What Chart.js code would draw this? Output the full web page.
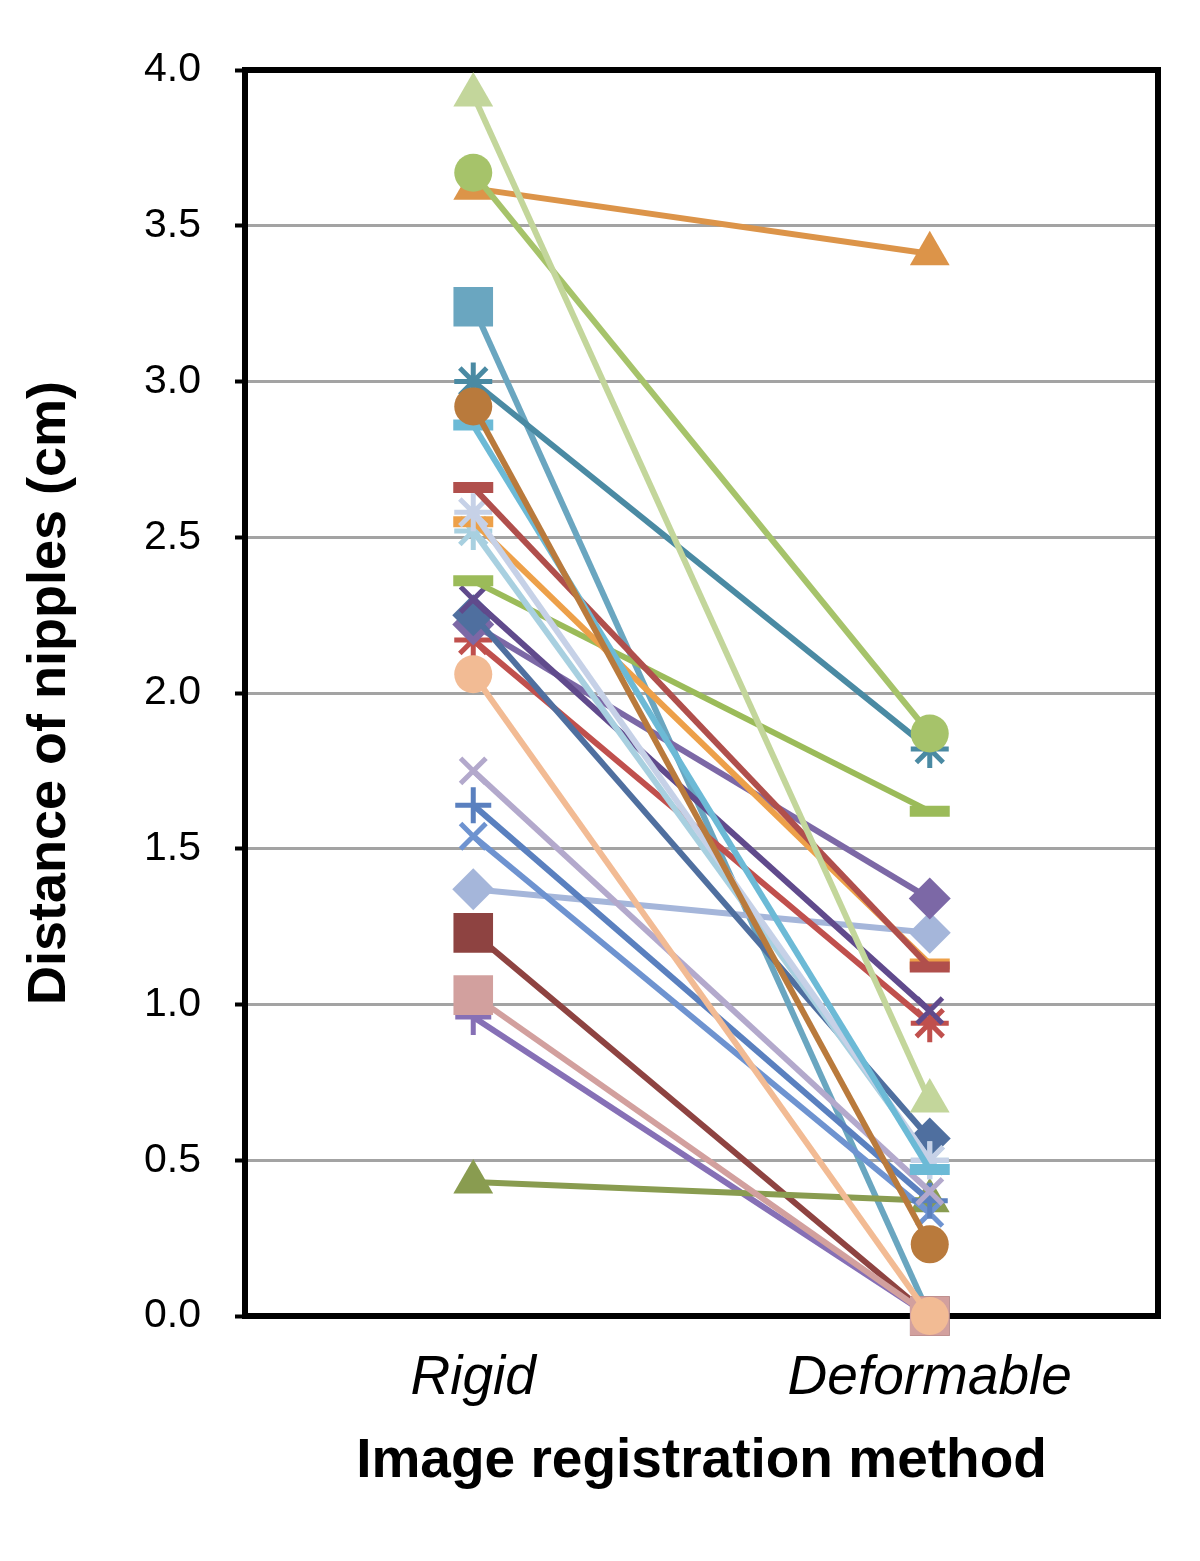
<!DOCTYPE html>
<html>
<head>
<meta charset="utf-8">
<script src="https://cdn.jsdelivr.net/npm/chart.js@4"></script>
<style>
  body { margin: 0; background: #fff; }
</style>
</head>
<body>
<canvas id="grafico" width="1200" height="1561"></canvas>
<script>
// categorias y valores
var metodos = ['Rigid', 'Deformable'];
var y_ticks = [0, 0.5, 1, 1.5, 2, 2.5, 3, 3.5, 4];

var rigido = [3.92, 3.67, 3.62, 3.24, 3.00, 2.92, 2.86, 2.66, 2.58, 2.55, 2.52, 2.36, 2.30,
              2.25, 2.22, 2.17, 2.06, 1.75, 1.64, 1.54, 1.37, 1.23, 1.03, 0.96, 0.43];
var deformable = [0.69, 1.87, 3.41, 0.00, 1.82, 0.23, 0.47, 1.12, 0.50, 1.13, 0.50, 1.62, 0.98,
                  0.57, 1.34, 0.94, 0.00, 0.40, 0.37, 0.33, 1.23, 0.00, 0.00, 0.00, 0.37];

var colores = ['#c3d69b', '#a6c36a', '#dc9449', '#6aa6c0', '#4a8aa3', '#b97a3c', '#6cbad6', '#b04f4c',
               '#c6d1e7', '#eda049', '#a8d0e0', '#9bbb59', '#604a8c', '#4f6f9f', '#7c68a6', '#c0504d',
               '#f2bb94', '#b3a9cc', '#5a80bf', '#6e93d0', '#a5b6da', '#8e4341', '#d2a09e', '#8670b6', '#899c50'];
var marcas = ['triangle', 'circle', 'triangle', 'rect', 'star', 'circle', 'line', 'line',
              'star', 'line', 'star', 'line', 'crossRot', 'rectRot', 'rectRot', 'star',
              'circle', 'crossRot', 'cross', 'crossRot', 'rectRot', 'rect', 'rect', 'cross', 'triangle'];
// orden de dibujo: mas alto = mas abajo
var capas = [0, 0, 0, 2, 1, 0, 0, 0, 0, 0, 0, 0, 0, 0, 0, 0, -1, 0, 0, 0, 0, 1, 0, 1, 0];

var radio_marca = { triangle: 23, circle: 19, rect: 28, rectRot: 21, star: 19, crossRot: 18, cross: 18, line: 20 };

var datasets = [];
for (i = 0; i < rigido.length; i++) {
    var m = marcas[i];
    var abierta = (m == 'star' || m == 'cross' || m == 'crossRot' || m == 'line');
    datasets.push({
        data: [rigido[i], deformable[i]],
        borderColor: colores[i],
        backgroundColor: colores[i],
        borderWidth: 6,
        pointStyle: m,
        pointRadius: radio_marca[m],
        pointBorderWidth: m == 'line' ? 11 : (abierta ? 5 : 0),
        pointBorderColor: colores[i],
        pointBackgroundColor: colores[i],
        fill: false,
        clip: false,
        order: capas[i]
    });
}

// marco negro alrededor del area del grafico
var marco = {
    id: 'marco',
    beforeDatasetsDraw: function (chart) {
        var a = chart.chartArea;
        var c = chart.ctx;
        c.save();
        c.strokeStyle = '#000';
        c.lineWidth = 6;
        c.strokeRect(a.left, a.top, a.right - a.left, a.bottom - a.top);
        c.restore();
    }
};

var ctx = document.getElementById('grafico').getContext('2d');
var chart = new Chart(ctx, {
    type: 'line',
    data: { labels: metodos, datasets: datasets },
    plugins: [marco],
    options: {
        responsive: false,
        animation: false,
        layout: { padding: { left: 0, right: 42, top: 70, bottom: 0 } },
        plugins: { legend: { display: false }, tooltip: { enabled: false } },
        scales: {
            x: {
                offset: true,
                grid: { display: false },
                border: { display: false },
                ticks: { color: '#000', padding: 22, font: { family: 'Liberation Sans', size: 55, style: 'italic' } },
                title: {
                    display: true, text: 'Image registration method', color: '#000',
                    padding: { top: 0, bottom: 66 },
                    font: { family: 'Liberation Sans', size: 55, weight: 'bold' }
                },
                afterFit: function (s) { s.height = 245; }
            },
            y: {
                min: 0, max: 4,
                afterBuildTicks: function (s) { s.ticks = y_ticks.map(function (v) { return { value: v }; }); },
                grid: { color: '#a3a3a3', lineWidth: 3, tickColor: '#000', tickWidth: 4, tickLength: 10 },
                border: { display: false },
                ticks: {
                    color: '#000', padding: 34,
                    font: { family: 'Liberation Sans', size: 41 },
                    callback: function (v) { return v.toFixed(1); }
                },
                title: {
                    display: true, text: 'Distance of nipples (cm)', color: '#000',
                    padding: { top: 18, bottom: 0 },
                    font: { family: 'Liberation Sans', size: 54, weight: 'bold' }
                },
                afterFit: function (s) { s.width = 245; }
            }
        }
    }
});
</script>
</body>
</html>
